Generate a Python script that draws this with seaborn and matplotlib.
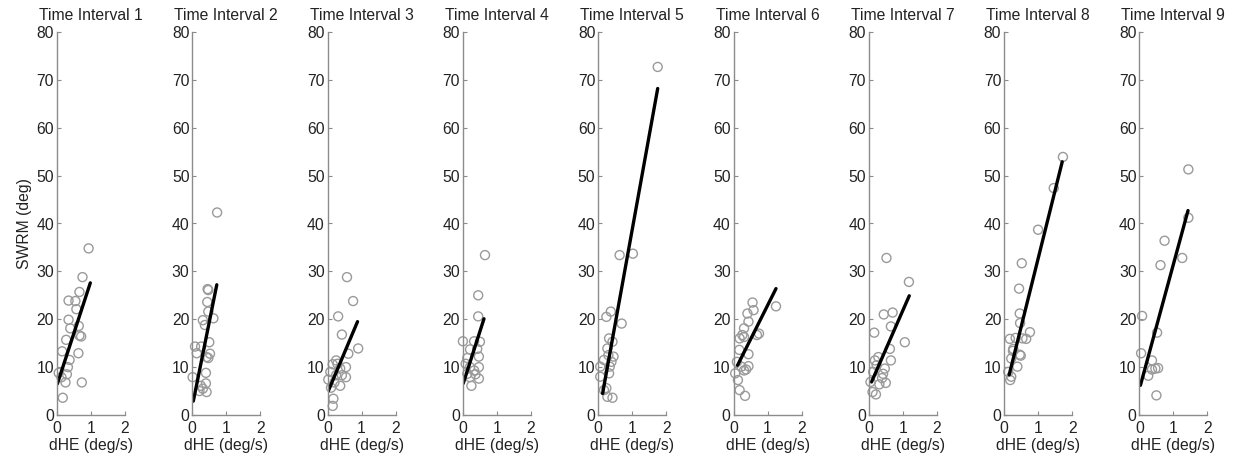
import matplotlib
matplotlib.use("Agg")
import matplotlib.pyplot as plt
import seaborn as sns
import pandas as pd

# values, one pair of lists per time interval
dhe_t1 = [0.93, 0.75, 0.66, 0.34, 0.54, 0.57, 0.34, 0.39, 0.64, 0.66, 0.71, 0.27,
          0.15, 0.63, 0.37, 0.32, 0.05, 0.29, 0.25, 0.73, 0.17, 0.13]
swrm_t1 = [34.8, 28.8, 25.7, 23.9, 23.8, 22.1, 19.9, 18.1, 18.6, 16.6, 16.4, 15.7,
           13.3, 12.9, 11.5, 10.0, 8.8, 8.5, 6.8, 6.8, 3.6, 7.9]

dhe_t2 = [0.73, 0.45, 0.47, 0.44, 0.47, 0.62, 0.31, 0.37, 0.08, 0.26, 0.13, 0.50,
          0.52, 0.42, 0.47, 0.01, 0.40, 0.40, 0.25, 0.31, 0.21, 0.42]
swrm_t2 = [42.3, 26.3, 26.1, 23.6, 21.6, 20.2, 19.8, 18.8, 14.3, 14.3, 12.9, 15.2,
           12.8, 12.1, 11.9, 7.9, 8.8, 6.6, 6.1, 5.5, 5.0, 4.8]

dhe_t3 = [0.57, 0.75, 0.31, 0.42, 0.61, 0.90, 0.25, 0.15, 0.54, 0.37, 0.02, 0.25,
          0.42, 0.54, 0.20, 0.37, 0.10, 0.17, 0.15, 0.08, 0.29]
swrm_t3 = [28.8, 23.8, 20.6, 16.8, 12.8, 13.9, 11.4, 10.6, 10.0, 9.7, 7.4, 8.3,
           8.3, 7.9, 6.8, 6.1, 5.7, 3.4, 1.9, 9.0, 10.7]

dhe_t4 = [0.65, 0.45, 0.45, 0.00, 0.33, 0.50, 0.42, 0.21, 0.47, 0.13, 0.08, 0.47,
          0.21, 0.33, 0.13, 0.37, 0.47, 0.25, 0.21]
swrm_t4 = [33.4, 25.0, 20.6, 15.4, 15.4, 15.3, 13.8, 13.7, 12.2, 11.9, 10.7, 10.0,
           10.0, 9.3, 8.6, 8.5, 7.6, 6.1, 7.9]

dhe_t5 = [1.75, 0.63, 1.02, 0.37, 0.24, 0.69, 0.42, 0.27, 0.30, 0.45, 0.17, 0.39,
          0.34, 0.32, 0.06, 0.06, 0.24, 0.17, 0.27, 0.42, 0.32]
swrm_t5 = [72.7, 33.4, 33.7, 21.6, 20.5, 19.1, 15.3, 13.9, 12.5, 12.2, 11.5, 11.1,
           10.1, 8.7, 10.1, 8.0, 5.6, 5.2, 3.8, 3.6, 16.0]

dhe_t6 = [1.25, 0.56, 0.59, 0.41, 0.44, 0.31, 0.75, 0.69, 0.18, 0.26, 0.31, 0.17,
          0.44, 0.10, 0.44, 0.31, 0.37, 0.05, 0.23, 0.13, 0.18, 0.34]
swrm_t6 = [22.7, 23.5, 21.9, 21.2, 19.5, 18.1, 17.0, 16.7, 16.0, 16.7, 16.3, 13.6,
           12.7, 11.1, 10.2, 9.3, 9.5, 8.7, 10.1, 7.3, 5.2, 4.0]

dhe_t7 = [0.52, 1.18, 0.44, 0.70, 0.65, 0.16, 1.06, 0.62, 0.65, 0.28, 0.18, 0.23,
          0.47, 0.42, 0.39, 0.31, 0.50, 0.05, 0.11, 0.21, 0.13]
swrm_t7 = [32.8, 27.8, 21.0, 21.4, 18.5, 17.2, 15.2, 13.8, 11.4, 12.1, 11.4, 10.4,
           9.7, 8.6, 7.7, 6.4, 6.7, 6.9, 4.8, 4.3, 9.0]

dhe_t8 = [1.73, 1.46, 1.00, 0.52, 0.44, 0.46, 0.47, 0.76, 0.17, 0.34, 0.65, 0.54,
          0.27, 0.46, 0.49, 0.21, 0.39, 0.12, 0.21, 0.18, 0.26]
swrm_t8 = [53.9, 47.4, 38.7, 31.7, 26.4, 21.2, 19.2, 17.3, 15.9, 16.1, 15.9, 16.0,
           13.8, 12.6, 12.4, 11.8, 10.1, 9.0, 8.0, 7.3, 13.4]

dhe_t9 = [1.44, 1.44, 0.74, 0.62, 1.26, 0.08, 0.52, 0.05, 0.37, 0.37, 0.55, 0.26,
          0.50, 0.47]
swrm_t9 = [51.3, 41.2, 36.4, 31.3, 32.8, 20.7, 17.2, 12.9, 11.4, 9.5, 9.8, 8.2,
           4.1, 9.7]

# fitted regression lines (start / end), one entry per interval
fit_x0 = [0.01, 0.03, 0.02, 0.01, 0.13, 0.12, 0.08, 0.15, 0.03]
fit_x1 = [0.98, 0.72, 0.88, 0.62, 1.75, 1.25, 1.19, 1.71, 1.43]
fit_y0 = [6.5, 2.9, 5.0, 6.6, 4.5, 10.4, 6.9, 8.4, 6.2]
fit_y1 = [27.6, 27.2, 19.5, 20.1, 68.2, 26.4, 24.9, 52.9, 42.7]

intervals = [f"Time Interval {i}" for i in range(1, 10)]
dhe_all = [dhe_t1, dhe_t2, dhe_t3, dhe_t4, dhe_t5, dhe_t6, dhe_t7, dhe_t8, dhe_t9]
swrm_all = [swrm_t1, swrm_t2, swrm_t3, swrm_t4, swrm_t5, swrm_t6, swrm_t7, swrm_t8, swrm_t9]

sns.set_theme(style="ticks")
plt.rcParams["font.family"] = ["Liberation Sans", "DejaVu Sans"]
grey = "#8c8c8c"
ink = "#222222"
fs = 11.3

fig = plt.figure(figsize=(12.36, 4.61), dpi=100)

for i, name in enumerate(intervals):
    left = (57 + 135.3 * i) / 1236
    ax = fig.add_axes([left, 46 / 461, 68 / 1236, 383 / 461])

    pts = pd.DataFrame({"dHE": dhe_all[i], "SWRM": swrm_all[i]})
    sns.scatterplot(data=pts, x="dHE", y="SWRM", ax=ax, marker="o", s=42,
                    facecolor="none", edgecolor="#9a9a9a", linewidth=1.0, clip_on=False)

    fit = pd.DataFrame({"dHE": [fit_x0[i], fit_x1[i]], "SWRM": [fit_y0[i], fit_y1[i]]})
    sns.lineplot(data=fit, x="dHE", y="SWRM", ax=ax, color="black", linewidth=2.4)

    ax.set_xlim(0, 2)
    ax.set_ylim(0, 80)
    ax.set_xticks([0, 1, 2])
    ax.set_yticks(range(0, 81, 10))
    ax.tick_params(direction="in", length=3, width=0.8, color=grey,
                   labelsize=fs, labelcolor=ink)
    ax.tick_params(axis="x", pad=4)
    ax.tick_params(axis="y", pad=2)
    for side in ["top", "right"]:
        ax.spines[side].set_visible(False)
    for side in ["left", "bottom"]:
        ax.spines[side].set_color(grey)
        ax.spines[side].set_linewidth(1.0)

    ax.set_title(name, fontsize=fs, color=ink, pad=9)
    ax.set_xlabel("dHE (deg/s)", fontsize=fs, color=ink, labelpad=2)
    if i == 0:
        ax.set_ylabel("SWRM (deg)", fontsize=fs, color=ink, labelpad=3)
    else:
        ax.set_ylabel("")

fig.savefig("out.png", dpi=100)
